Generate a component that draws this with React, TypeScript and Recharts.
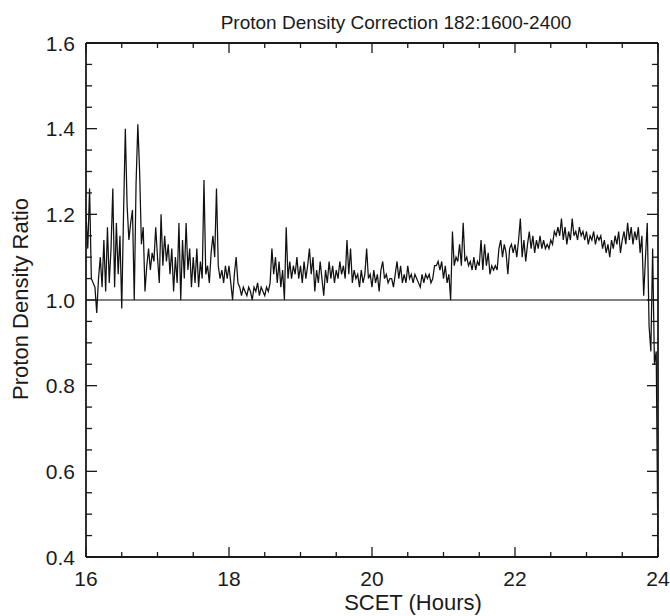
import React from "react";
import { LineChart, Line, XAxis, YAxis, ReferenceLine } from "recharts";

// ---- data ----
const START_HOUR = 16;
const STEP_HOURS = 0.025;

const ratio16 = [
  1.2, 1.12, 1.26, 1.05, 1.04, 1.03, 0.97, 1.05, 1.1, 1.03,
  1.14, 1.02, 1.17, 1.04, 1.12, 1.26, 1.03, 1.18, 1.06, 1.15,
  0.98, 1.2, 1.4, 1.22, 1.14, 1.18, 1.21, 1.0, 1.27, 1.41,
  1.3, 1.13, 1.17, 1.02, 1.08, 1.12, 1.07, 1.11, 1.09, 1.17,
];
const ratio17 = [
  1.1, 1.04, 1.2, 1.08, 1.15, 1.09, 1.13, 1.06, 1.12, 1.02,
  1.1, 1.04, 1.18, 1.0, 1.14, 1.05, 1.18, 1.07, 1.12, 1.03,
  1.1, 1.04, 1.12, 1.03, 1.09, 1.05, 1.28, 1.06, 1.08, 1.04,
  1.11, 1.15, 1.1, 1.26, 1.08, 1.05, 1.07, 1.04, 1.08, 1.05,
];
const ratio18 = [
  1.08, 1.04, 1.0, 1.06, 1.1, 1.04, 1.03, 1.01, 1.03, 1.02,
  1.01, 1.03, 1.02, 1.0, 1.03, 1.02, 1.04, 1.01, 1.03, 1.02,
  1.01, 1.03, 1.02, 1.04, 1.12, 1.06, 1.1, 1.04, 1.09, 1.03,
  1.07, 1.0, 1.17, 1.05, 1.09, 1.05, 1.08, 1.06, 1.1, 1.05,
];
const ratio19 = [
  1.08, 1.04, 1.09, 1.05, 1.08, 1.12, 1.06, 1.1, 1.02, 1.07,
  1.04, 1.09, 1.05, 1.01, 1.07, 1.04, 1.09, 1.05, 1.08, 1.04,
  1.07, 1.05, 1.09, 1.06, 1.08, 1.05, 1.14, 1.06, 1.12, 1.04,
  1.07, 1.05, 1.06, 1.03, 1.07, 1.04, 1.06, 1.12, 1.05, 1.06,
];
const ratio20 = [
  1.03, 1.07, 1.04, 1.06, 1.02, 1.07, 1.09, 1.05, 1.06, 1.04,
  1.05, 1.05, 1.03, 1.06, 1.09, 1.05, 1.08, 1.04, 1.06, 1.04,
  1.08, 1.05, 1.06, 1.04, 1.06, 1.05, 1.04, 1.03, 1.06, 1.04,
  1.06, 1.05, 1.06, 1.04, 1.05, 1.08, 1.08, 1.09, 1.07, 1.09,
];
const ratio21 = [
  1.05, 1.08, 1.04, 1.06, 1.0, 1.16, 1.08, 1.1, 1.09, 1.13,
  1.08, 1.18, 1.09, 1.1, 1.08, 1.09, 1.07, 1.1, 1.07, 1.09,
  1.08, 1.14, 1.07, 1.13, 1.08, 1.11, 1.06, 1.08, 1.07, 1.08,
  1.07, 1.12, 1.14, 1.1, 1.13, 1.11, 1.06, 1.12, 1.13, 1.11,
];
const ratio22 = [
  1.13, 1.1, 1.14, 1.19, 1.1, 1.14, 1.09, 1.13, 1.16, 1.12,
  1.15, 1.11, 1.14, 1.12, 1.15, 1.12, 1.14, 1.12, 1.13, 1.12,
  1.14, 1.13, 1.16, 1.15, 1.17, 1.15, 1.19, 1.14, 1.17, 1.13,
  1.16, 1.14, 1.19, 1.15, 1.16, 1.14, 1.17, 1.15, 1.16, 1.14,
];
const ratio23 = [
  1.16, 1.13, 1.15, 1.14, 1.16, 1.13, 1.15, 1.14, 1.15, 1.12,
  1.14, 1.11, 1.13, 1.1, 1.14, 1.12, 1.15, 1.13, 1.16, 1.11,
  1.14, 1.16, 1.13, 1.18, 1.14, 1.17, 1.13, 1.16, 1.14, 1.17,
  1.11, 1.15, 1.01, 1.1, 1.18, 0.94, 0.88, 1.12, 0.85, 0.88,
  0.4,
];

const xTicks = [16, 16.5, 17, 17.5, 18, 18.5, 19, 19.5, 20, 20.5, 21, 21.5, 22, 22.5, 23, 23.5, 24];
const xLabelled = [16, 18, 20, 22, 24];
const yTicks = [0.4, 0.45, 0.5, 0.55, 0.6, 0.65, 0.7, 0.75, 0.8, 0.85, 0.9, 0.95, 1.0, 1.05, 1.1, 1.15, 1.2, 1.25, 1.3, 1.35, 1.4, 1.45, 1.5, 1.55, 1.6];
const yLabelled = [0.4, 0.6, 0.8, 1.0, 1.2, 1.4, 1.6];

const TITLE = "Proton Density Correction 182:1600-2400";
const X_LABEL = "SCET (Hours)";
const Y_LABEL = "Proton Density Ratio";

const allRatios = [...ratio16, ...ratio17, ...ratio18, ...ratio19, ...ratio20, ...ratio21, ...ratio22, ...ratio23];
const data = allRatios.map((r, i) => ({ t: START_HOUR + i * STEP_HOURS, r }));

// ---- styling ----
const FONT = "'Liberation Sans', Arial, sans-serif";
const INK = "#1a1a1a";
const W = 670;
const H = 616;

const isMajor = (v: number, list: number[]) => list.some((m) => Math.abs(m - v) < 1e-6);

const BottomTick = (props: any) => {
  const { x, y, payload } = props;
  const major = isMajor(payload.value, xLabelled);
  return (
    <g>
      <line x1={x} x2={x} y1={y} y2={y - (major ? 10 : 5)} stroke={INK} strokeWidth={1.3} />
      {major && (
        <text x={x} y={y + 29} textAnchor="middle" fontSize={21} fill={INK} fontFamily={FONT}>
          {payload.value}
        </text>
      )}
    </g>
  );
};

const TopTick = (props: any) => {
  const { x, y, payload } = props;
  const major = isMajor(payload.value, xLabelled);
  return <line x1={x} x2={x} y1={y} y2={y + (major ? 10 : 5)} stroke={INK} strokeWidth={1.3} />;
};

const LeftTick = (props: any) => {
  const { x, y, payload } = props;
  const major = isMajor(payload.value, yLabelled);
  return (
    <g>
      <line x1={x} x2={x + (major ? 11 : 6)} y1={y} y2={y} stroke={INK} strokeWidth={1.3} />
      {major && (
        <text x={x - 11} y={y} dy="0.36em" textAnchor="end" fontSize={21} fill={INK} fontFamily={FONT}>
          {payload.value.toFixed(1)}
        </text>
      )}
    </g>
  );
};

const RightTick = (props: any) => {
  const { x, y, payload } = props;
  const major = isMajor(payload.value, yLabelled);
  return <line x1={x} x2={x - (major ? 11 : 6)} y1={y} y2={y} stroke={INK} strokeWidth={1.3} />;
};

export default function App() {
  return (
    <div
      style={{
        position: "absolute",
        left: 0,
        top: 0,
        width: W,
        height: H,
        overflow: "hidden",
        background: "#fff",
      }}
    >
      <LineChart
        width={W}
        height={H}
        data={data}
        margin={{ top: 42, right: 11, bottom: 9, left: 0 }}
      >
        <XAxis
          xAxisId="b"
          dataKey="t"
          type="number"
          domain={[16, 24]}
          ticks={xTicks}
          interval={0}
          orientation="bottom"
          height={50}
          tickLine={false}
          tickSize={0}
          tickMargin={0}
          tick={<BottomTick />}
          axisLine={{ stroke: INK, strokeWidth: 1.8 }}
          allowDataOverflow
        />
        <XAxis
          xAxisId="t"
          dataKey="t"
          type="number"
          domain={[16, 24]}
          ticks={xTicks}
          interval={0}
          orientation="top"
          height={1}
          tickLine={false}
          tickSize={0}
          tickMargin={0}
          tick={<TopTick />}
          axisLine={{ stroke: INK, strokeWidth: 1.8 }}
          allowDataOverflow
        />
        <YAxis
          yAxisId="l"
          type="number"
          domain={[0.4, 1.6]}
          ticks={yTicks}
          interval={0}
          orientation="left"
          width={86}
          tickLine={false}
          tickSize={0}
          tickMargin={0}
          tick={<LeftTick />}
          axisLine={{ stroke: INK, strokeWidth: 1.8 }}
          allowDataOverflow
        />
        <YAxis
          yAxisId="r"
          type="number"
          domain={[0.4, 1.6]}
          ticks={yTicks}
          interval={0}
          orientation="right"
          width={1}
          tickLine={false}
          tickSize={0}
          tickMargin={0}
          tick={<RightTick />}
          axisLine={{ stroke: INK, strokeWidth: 1.8 }}
          allowDataOverflow
        />
        <ReferenceLine xAxisId="b" yAxisId="l" y={1.0} stroke="#808080" strokeWidth={1.8} />
        <Line
          xAxisId="b"
          yAxisId="l"
          type="linear"
          dataKey="r"
          stroke="#111"
          strokeWidth={1.25}
          dot={false}
          activeDot={false}
          isAnimationActive={false}
        />
      </LineChart>
      <svg
        width={W}
        height={H}
        style={{ position: "absolute", left: 0, top: 0, pointerEvents: "none" }}
      >
        <text x={396} y={29} textAnchor="middle" fontSize={19} fill={INK} fontFamily={FONT}>
          {TITLE}
        </text>
        <text x={413} y={610} textAnchor="middle" fontSize={22} fill={INK} fontFamily={FONT}>
          {X_LABEL}
        </text>
        <text
          x={20}
          y={299}
          textAnchor="middle"
          dy="0.36em"
          fontSize={22}
          fill={INK}
          fontFamily={FONT}
          transform="rotate(-90 20 299)"
        >
          {Y_LABEL}
        </text>
      </svg>
    </div>
  );
}
